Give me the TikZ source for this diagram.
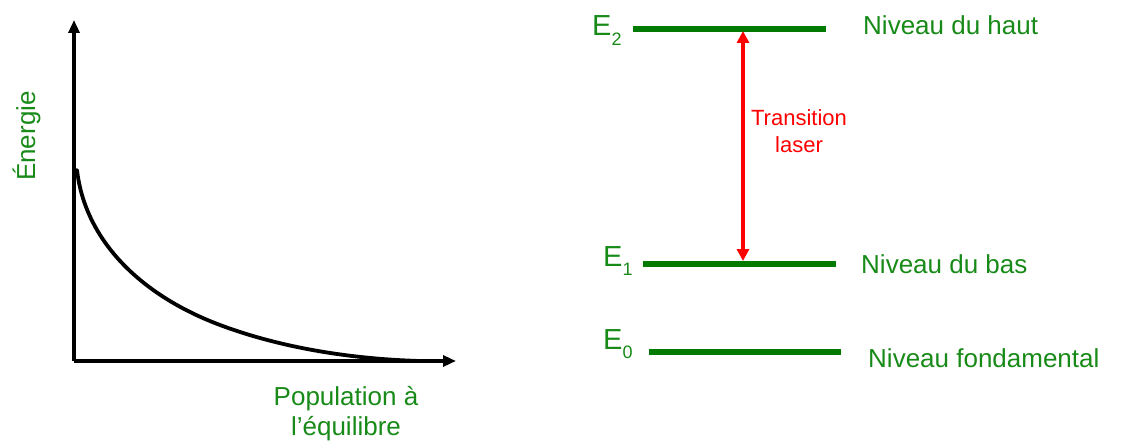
\documentclass[tikz,border=0pt]{standalone}
\usepackage{fontspec}
\setmainfont{Liberation Sans}
\usetikzlibrary{arrows.meta}
\definecolor{lvlgreen}{RGB}{0,122,0}
\definecolor{txtgreen}{RGB}{24,138,24}
\definecolor{arrred}{RGB}{255,0,0}
\newcommand{\sz}[1]{\fontsize{#1}{#1}\selectfont}
\newcommand{\Elab}[1]{E\raisebox{-0.32em}{\sz{18}#1}}
\begin{document}
\begin{tikzpicture}[x=1pt,y=-1pt,
  axis/.style={line width=3.5pt,black,-{Triangle[length=13pt,width=11pt]}},
  curve/.style={line width=3.8pt,black,line cap=round,line join=round},
  level/.style={line width=5.5pt,lvlgreen},
  lbl/.style={text=txtgreen,font=\sz{26},inner sep=0pt},
  elbl/.style={text=txtgreen,font=\sz{29},inner sep=0pt,anchor=base west},
  trans/.style={line width=4.5pt,arrred,{Triangle[length=12pt,width=12pt]}-{Triangle[length=12pt,width=12pt]}},
  translbl/.style={text=arrred,font=\sz{22},inner sep=0pt,align=center}]
\useasboundingbox (0,0) rectangle (1136,441);
% left plot
\coordinate (O) at (74,361);
\coordinate (Ytop) at (74,20);
\coordinate (Xend) at (456,361);
\draw[axis] (O) -- (Ytop);
\draw[axis] (O) -- (Xend);
\coordinate (c0) at (77,170);
\coordinate (c1) at (220,325);
\coordinate (c2) at (420,361);
\draw[curve] (c0) .. controls (85,240) and (140,295) .. (c1)
  .. controls (280,347.5) and (350,359) .. (c2);
\node[lbl,rotate=90,anchor=base] (en) at (35,136) {Énergie};
\node[lbl,anchor=base] (pop1) at (346,405) {Population à};
\node[lbl,anchor=base] (pop2) at (346,435) {l’équilibre};
% right diagram
\coordinate (e2a) at (633,29);
\coordinate (e2b) at (826,29);
\coordinate (e1a) at (643,264);
\coordinate (e1b) at (836,264);
\coordinate (e0a) at (649,352);
\coordinate (e0b) at (841,352);
\draw[level] (e2a) -- (e2b);
\draw[level] (e1a) -- (e1b);
\draw[level] (e0a) -- (e0b);
\coordinate (tTop) at (743,31);
\coordinate (tBot) at (743,261);
\draw[trans] (tTop) -- (tBot);
\node[translbl,anchor=base] (tr1) at (799,126) {Transition};
\node[translbl,anchor=base] (tr2) at (799,153) {laser};
\node[elbl] (E2) at (592,36) {\Elab{2}};
\node[elbl] (E1) at (603,266) {\Elab{1}};
\node[elbl] (E0) at (603,349) {\Elab{0}};
\node[lbl,anchor=base west] (n2) at (863,35) {Niveau du haut};
\node[lbl,anchor=base west] (n1) at (861,273) {Niveau du bas};
\node[lbl,anchor=base west] (n0) at (868,367) {Niveau fondamental};
\end{tikzpicture}
\end{document}
